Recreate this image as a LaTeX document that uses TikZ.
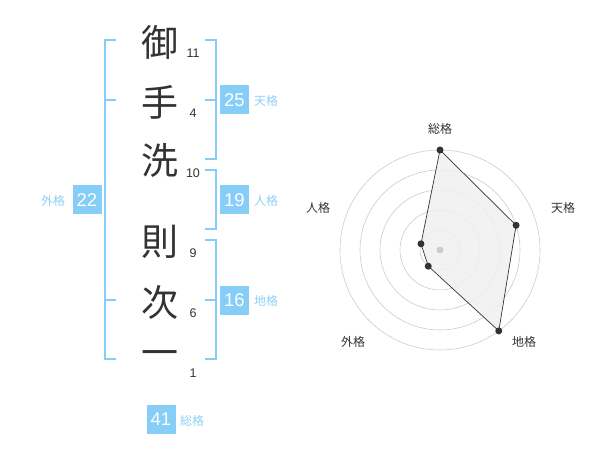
\documentclass[tikz,border=0pt]{standalone}
\usepackage{fontspec}
\usetikzlibrary{calc}
\setmainfont{Liberation Sans}
\newfontfamily\cjk{Noto Sans CJK JP}
\definecolor{brk}{HTML}{86CDF8}
\definecolor{lbl}{HTML}{8FD0F6}
\definecolor{ink}{HTML}{333333}
\definecolor{ring}{HTML}{CCCCCC}
\definecolor{area}{HTML}{F0F0F0}
\tikzset{
  kanji/.style={font=\cjk\fontsize{37}{37}\selectfont, text=ink, inner sep=0pt},
  strokes/.style={font=\fontsize{12.5}{12.5}\selectfont, text=ink, inner sep=0pt},
  bracket/.style={draw=brk, line width=2pt},
  valbox/.style={fill=brk, text=white, minimum width=29pt, minimum height=29pt, inner sep=0pt, font=\fontsize{18.5}{18.5}\selectfont},
  kaku/.style={text=lbl, inner sep=0pt, font=\cjk\fontsize{12}{12}\selectfont},
  axlabel/.style={text=ink, inner sep=0pt, font=\cjk\fontsize{12}{12}\selectfont},
  dot/.style={circle, fill=ink, inner sep=0pt, minimum size=7pt},
}
\begin{document}
\begin{tikzpicture}[x=1pt,y=-1pt]
\useasboundingbox (0,0) rectangle (600,470);
% characters
\node[kanji] (c1) at (160,42) {御};
\node[kanji] (c2) at (160,102) {手};
\node[kanji] (c3) at (160,160) {洗};
\node[kanji] (c4) at (160,242) {則};
\node[kanji] (c5) at (160,302) {次};
\node[kanji] (c6) at (160,359) {一};
% stroke counts
\node[strokes] (n1) at (193,53) {11};
\node[strokes] (n2) at (193,113) {4};
\node[strokes] (n3) at (193,173) {10};
\node[strokes] (n4) at (193,253) {9};
\node[strokes] (n5) at (193,313) {6};
\node[strokes] (n6) at (193,373) {1};
% brackets
\coordinate (la) at (116,40); \coordinate (lb) at (116,100);
\coordinate (lc) at (116,300); \coordinate (ld) at (116,359);
\draw[bracket] (la) -| (105,359) -- (ld);
\draw[bracket] (lb) -- (105,100);
\draw[bracket] (lc) -- (105,300);
\coordinate (ta) at (205,40); \coordinate (tb) at (205,159); \coordinate (tm) at (205,100);
\draw[bracket] (ta) -| (216,159) -- (tb);
\draw[bracket] (tm) -- (216,100);
\coordinate (ja) at (205,170); \coordinate (jb) at (205,229);
\draw[bracket] (ja) -| (216,229) -- (jb);
\coordinate (ca) at (205,240); \coordinate (cb) at (205,359); \coordinate (cm) at (205,300);
\draw[bracket] (ca) -| (216,359) -- (cb);
\draw[bracket] (cm) -- (216,300);
% value boxes
\node[valbox] (v25) at (234.5,100) {25};
\node[kaku] (k25) at (266,101) {天格};
\node[valbox] (v19) at (234.5,200) {19};
\node[kaku] (k19) at (266,201) {人格};
\node[valbox] (v16) at (234.5,300.5) {16};
\node[kaku] (k16) at (266,301) {地格};
\node[valbox] (v22) at (87,200) {22};
\node[kaku] (k22) at (53,201) {外格};
\node[valbox] (v41) at (161,419) {41};
\node[kaku] (k41) at (192,421) {総格};
% radar
\coordinate (o) at (440,250);
\foreach \r in {20,40,60,80,100} \draw[ring, line width=0.6pt] (o) circle[radius=\r];
\coordinate (p1) at ($(o)+(-90:100)$);
\coordinate (p2) at ($(o)+(-18:80)$);
\coordinate (p3) at ($(o)+(54:100)$);
\coordinate (p4) at ($(o)+(126:20)$);
\coordinate (p5) at ($(o)+(198:20)$);
\filldraw[fill=area, fill opacity=0.85, draw=ink, line width=0.7pt] (p1) -- (p2) -- (p3) -- (p4) -- (p5) -- cycle;
\fill[ring] (o) circle[radius=3.5];
\foreach \p in {p1,p2,p3,p4,p5} \node[dot] at (\p) {};
\node[axlabel] (a1) at (440,129) {総格};
\node[axlabel] (a2) at (563,208) {天格};
\node[axlabel] (a3) at (524,342) {地格};
\node[axlabel] (a4) at (353,342) {外格};
\node[axlabel] (a5) at (318,208) {人格};
\end{tikzpicture}
\end{document}
